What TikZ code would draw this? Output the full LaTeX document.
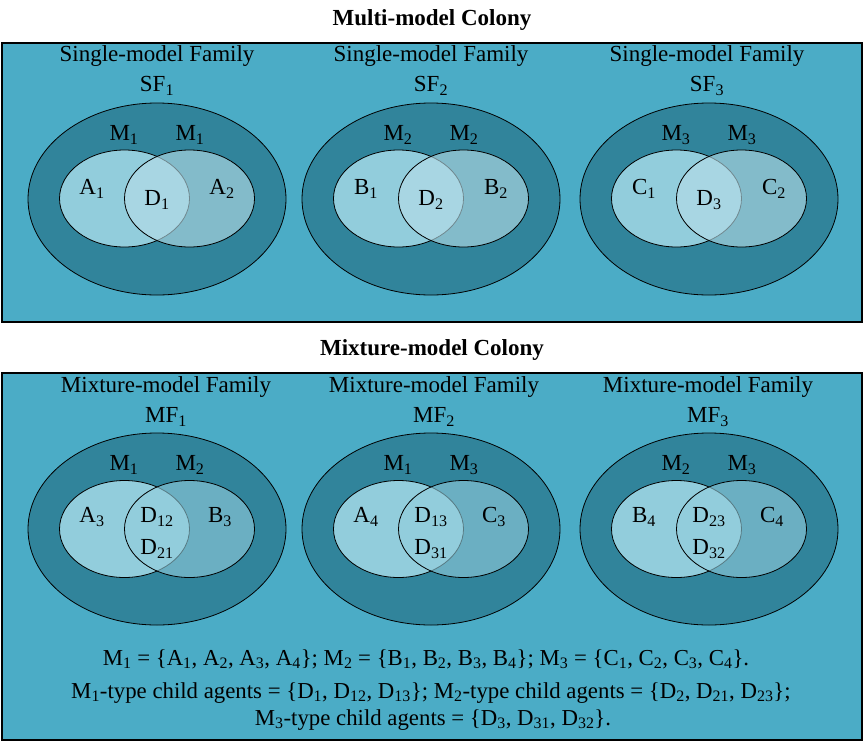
\documentclass[tikz,border=0pt]{standalone}
\usepackage{fontspec}
\setmainfont{Liberation Serif}
\definecolor{boxblue}{HTML}{4BACC6}
\definecolor{outerteal}{HTML}{31849B}
\definecolor{innerlight}{HTML}{92CDDC}
\definecolor{innerpale}{HTML}{B6DDE8}
\newcommand{\sbs}[1]{\textsubscript{#1}}
\begin{document}
\begin{tikzpicture}[x=1pt,y=-1pt,
  colonybox/.style={draw=black, line width=1.3pt, fill=boxblue},
  outerell/.style={draw=black, line width=0.8pt, fill=outerteal},
  leftell/.style={draw=black, line width=0.8pt, fill=innerlight},
  rightelltop/.style={draw=black, line width=0.8pt, fill=innerpale, fill opacity=0.62},
  rightellbot/.style={draw=black, line width=0.8pt, fill=innerlight, fill opacity=0.6},
  lbl/.style={inner sep=0pt, font=\fontsize{23}{27}\selectfont, text=black},
  ttl/.style={inner sep=0pt, font=\fontsize{23}{27}\selectfont\bfseries, text=black},
  note/.style={inner sep=0pt, font=\fontsize{22.8}{26}\selectfont, text=black}]
\useasboundingbox (0,0) rectangle (865,747);
\fill[white] (0,0) rectangle (865,747);
% titles and boxes
\node[ttl] (t1) at (432,20) {Multi-model Colony};
\path[colonybox] (2,43) rectangle (862,322);
\node[ttl] (t2) at (432,350) {Mixture-model Colony};
\path[colonybox] (2,373) rectangle (862,740);
% top families
\foreach \i/\cx/\tx/\ma/\la/\lb in {1/157/157/1/A\sbs{1}/A\sbs{2},2/431/431/2/B\sbs{1}/B\sbs{2},3/709/707/3/C\sbs{1}/C\sbs{2}}{
  \path[outerell] (\cx,199) ellipse [x radius=129pt, y radius=96pt];
  \path[leftell] (\cx-32.5,198.5) ellipse [x radius=65pt, y radius=48.5pt];
  \path[rightelltop] (\cx+32.5,198.5) ellipse [x radius=65pt, y radius=48.5pt];
  \node[lbl] (sfa\i) at (\tx,56) {Single-model Family};
  \node[lbl] (sfb\i) at (\tx,86) {SF\sbs{\i}};
  \node[lbl] (sma\i) at (\cx-33,135) {M\sbs{\ma}};
  \node[lbl] (smb\i) at (\cx+33,135) {M\sbs{\ma}};
  \node[lbl] (sla\i) at (\cx-65,189) {\la};
  \node[lbl] (sd\i) at (\cx,200) {D\sbs{\i}};
  \node[lbl] (slb\i) at (\cx+65,189) {\lb};
}
% bottom families
\foreach \i/\cx/\tx/\ma/\mb/\la/\lb/\da/\db in {1/157/166/1/2/A\sbs{3}/B\sbs{3}/12/21,2/431/434/1/3/A\sbs{4}/C\sbs{3}/13/31,3/709/708/2/3/B\sbs{4}/C\sbs{4}/23/32}{
  \path[outerell] (\cx,529) ellipse [x radius=129pt, y radius=96pt];
  \path[leftell] (\cx-32.5,529) ellipse [x radius=65pt, y radius=48.5pt];
  \path[rightellbot] (\cx+32.5,529) ellipse [x radius=65pt, y radius=48.5pt];
  \node[lbl] (mfa\i) at (\tx,387) {Mixture-model Family};
  \node[lbl] (mfb\i) at (\tx,417) {MF\sbs{\i}};
  \node[lbl] (mma\i) at (\cx-33,465) {M\sbs{\ma}};
  \node[lbl] (mmb\i) at (\cx+33,465) {M\sbs{\mb}};
  \node[lbl] (mla\i) at (\cx-65,517) {\la};
  \node[lbl] (mda\i) at (\cx,517) {D\sbs{\da}};
  \node[lbl] (mdb\i) at (\cx,549) {D\sbs{\db}};
  \node[lbl] (mlb\i) at (\cx+63,517) {\lb};
}
% notes
\node[note] (n1) at (426,659) {M\sbs{1} = \{A\sbs{1}, A\sbs{2}, A\sbs{3}, A\sbs{4}\}; M\sbs{2} = \{B\sbs{1}, B\sbs{2}, B\sbs{3}, B\sbs{4}\}; M\sbs{3} = \{C\sbs{1}, C\sbs{2}, C\sbs{3}, C\sbs{4}\}.};
\node[note] (n2) at (431,693) {M\sbs{1}-type child agents = \{D\sbs{1}, D\sbs{12}, D\sbs{13}\}; M\sbs{2}-type child agents = \{D\sbs{2}, D\sbs{21}, D\sbs{23}\};};
\node[note] (n3) at (433,720) {M\sbs{3}-type child agents = \{D\sbs{3}, D\sbs{31}, D\sbs{32}\}.};
\end{tikzpicture}
\end{document}
